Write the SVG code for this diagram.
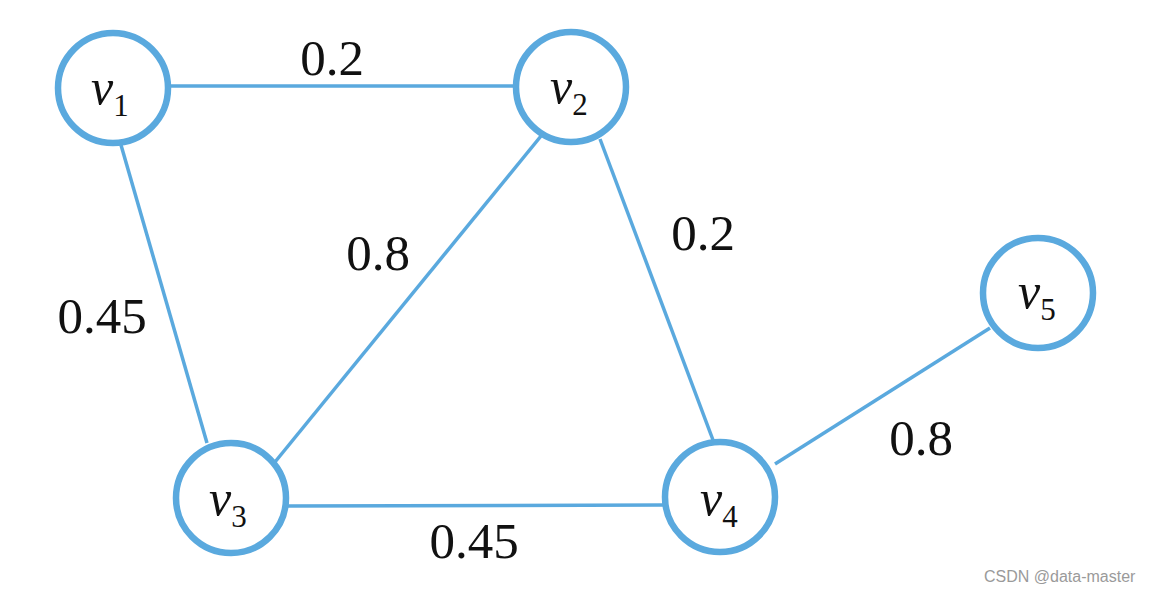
<svg xmlns="http://www.w3.org/2000/svg" width="1152" height="591" viewBox="0 0 1152 591">
<style>
.node{fill:#fff;stroke:#5aa9de;stroke-width:6.5}
.edge{stroke:#5aa9de;stroke-width:3.5;fill:none}
.nl{font-family:"Liberation Serif","DejaVu Serif","Times New Roman",serif;font-size:50px;font-style:italic;fill:#111}
.sub{font-style:normal;font-size:31px}
.w{font-family:"Liberation Serif","DejaVu Serif","Times New Roman",serif;font-size:51px;fill:#111;text-anchor:middle}
.wm{font-family:"Liberation Sans",Arial,sans-serif;font-size:16px;fill:#9a9a9a}
</style>
<rect width="1152" height="591" fill="#fff"/>
<g id="connectors">
<line class="edge" x1="170" y1="86" x2="514" y2="86"/>
<line class="edge" x1="121" y1="145" x2="207" y2="443"/>
<line class="edge" x1="275" y1="462" x2="541" y2="136"/>
<line class="edge" x1="600" y1="139" x2="713" y2="440"/>
<line class="edge" x1="288" y1="506" x2="664" y2="505"/>
<line class="edge" x1="775" y1="464" x2="990" y2="328"/>
</g>
<g id="labels">
<text class="w" x="332" y="75">0.2</text>
<text class="w" x="102" y="333">0.45</text>
<text class="w" x="378" y="270">0.8</text>
<text class="w" x="703" y="250">0.2</text>
<text class="w" x="921" y="455">0.8</text>
<text class="w" x="474" y="558">0.45</text>
</g>
<g id="v1"><circle class="node" cx="113" cy="88" r="55"/><text class="nl" x="91" y="104">v<tspan class="sub" dy="12">1</tspan></text></g>
<g id="v2"><circle class="node" cx="571" cy="87" r="55"/><text class="nl" x="550" y="103">v<tspan class="sub" dy="12">2</tspan></text></g>
<g id="v3"><circle class="node" cx="231" cy="498" r="55"/><text class="nl" x="209" y="515">v<tspan class="sub" dy="12">3</tspan></text></g>
<g id="v4"><circle class="node" cx="720" cy="497" r="55"/><text class="nl" x="700" y="515">v<tspan class="sub" dy="12">4</tspan></text></g>
<g id="v5"><circle class="node" cx="1038" cy="293" r="55"/><text class="nl" x="1018" y="308">v<tspan class="sub" dy="12">5</tspan></text></g>
<text class="wm" x="984" y="582">CSDN @data-master</text>
</svg>
